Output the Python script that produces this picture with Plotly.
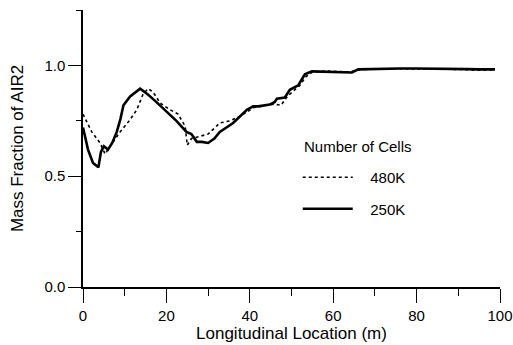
import plotly.graph_objects as go

x_250 = [0, 1.2, 2.4, 3.7, 4.3, 5, 6, 7, 8.1, 9, 9.7, 11.3, 13.7, 15.5, 17.3, 20, 22.4, 24.8, 26, 27.3, 28.5, 30, 31.5, 32.8, 36, 39.3, 40.8, 42, 44.8, 46, 46.5, 48.4, 49.6, 51.6, 53.2, 54.9, 57, 59.2, 61, 63, 64.5, 66, 69, 72, 76, 80, 84, 88, 92, 95, 98.8]
y_250 = [0.72, 0.62, 0.56, 0.54, 0.61, 0.635, 0.62, 0.65, 0.70, 0.76, 0.82, 0.86, 0.895, 0.87, 0.84, 0.79, 0.75, 0.70, 0.69, 0.655, 0.655, 0.65, 0.67, 0.70, 0.74, 0.80, 0.815, 0.815, 0.823, 0.835, 0.85, 0.855, 0.89, 0.91, 0.96, 0.973, 0.972, 0.973, 0.97, 0.968, 0.968, 0.982, 0.984, 0.986, 0.986, 0.986, 0.984, 0.982, 0.983, 0.982, 0.982]

x_480 = [0, 2.1, 4.1, 5.3, 6.5, 8.9, 11.3, 12.9, 14.4, 15.6, 16.8, 18.5, 20.9, 22.8, 24.5, 25, 26, 28, 30, 32.8, 35.3, 37.6, 39.3, 41, 44, 46, 47.5, 49, 50.5, 52, 53.5, 55, 58, 61, 64, 66, 70, 75, 80, 85, 90, 95, 98.8]
y_480 = [0.78, 0.70, 0.65, 0.60, 0.635, 0.70, 0.755, 0.80, 0.87, 0.895, 0.88, 0.83, 0.80, 0.78, 0.725, 0.64, 0.67, 0.68, 0.69, 0.74, 0.75, 0.77, 0.79, 0.81, 0.82, 0.825, 0.82, 0.86, 0.885, 0.91, 0.95, 0.97, 0.975, 0.972, 0.97, 0.98, 0.984, 0.985, 0.985, 0.983, 0.982, 0.978, 0.98]

x_ticks = [0, 20, 40, 60, 80, 100]
y_ticks = [0.0, 0.5, 1.0]
y_tick_labels = ["0.0", "0.5", "1.0"]
legend_title = "Number of Cells"
series_names = ["480K", "250K"]

FONT = "Liberation Sans, Arial, sans-serif"
PAD = "\u00a0\u00a0\u00a0"

fig = go.Figure()
fig.add_trace(go.Scatter(x=x_480, y=y_480, mode="lines", name=PAD + series_names[0],
                         line=dict(color="black", width=1.6, dash="dot"),
                         legendgroup="a"))
fig.add_trace(go.Scatter(x=x_250, y=y_250, mode="lines", name=PAD + series_names[1],
                         line=dict(color="black", width=2.6),
                         legendgroup="b"))

fig.add_annotation(text=legend_title, xref="paper", yref="paper",
                   x=0.524, y=0.508, xanchor="left", yanchor="middle",
                   showarrow=False, font=dict(size=15, family=FONT, color="black"))

fig.update_layout(
    width=513, height=345,
    margin=dict(l=83, r=13, t=10, b=58),
    paper_bgcolor="white", plot_bgcolor="white",
    font=dict(family=FONT, size=15, color="black"),
    showlegend=True,
    legend=dict(
        x=0.515, y=0.455, xanchor="left", yanchor="top",
        bgcolor="rgba(0,0,0,0)", font=dict(size=15),
        tracegroupgap=9, itemwidth=50,
    ),
    xaxis=dict(
        range=[0, 100], tickvals=x_ticks, ticktext=[str(v) for v in x_ticks],
        ticks="outside", ticklen=14, tickwidth=1, tickcolor="black",
        minor=dict(dtick=10, tick0=0, ticks="outside", ticklen=7, tickcolor="black", showgrid=False),
        showline=True, linecolor="black", linewidth=1.5,
        showgrid=False, zeroline=False, automargin=False,
        title=dict(text="Longitudinal Location (m)", font=dict(size=17), standoff=4),
        tickfont=dict(size=15),
    ),
    yaxis=dict(
        range=[0, 1.25], tickvals=y_ticks, ticktext=y_tick_labels,
        ticks="outside", ticklen=13, tickwidth=1, tickcolor="black",
        minor=dict(dtick=0.25, tick0=0, ticks="outside", ticklen=5, tickcolor="black", showgrid=False),
        showline=True, linecolor="black", linewidth=1.5,
        showgrid=False, zeroline=False, automargin=False,
        title=dict(text="Mass Fraction of AIR2", font=dict(size=17), standoff=16),
        tickfont=dict(size=15),
    ),
)

fig.write_html("out.html")
